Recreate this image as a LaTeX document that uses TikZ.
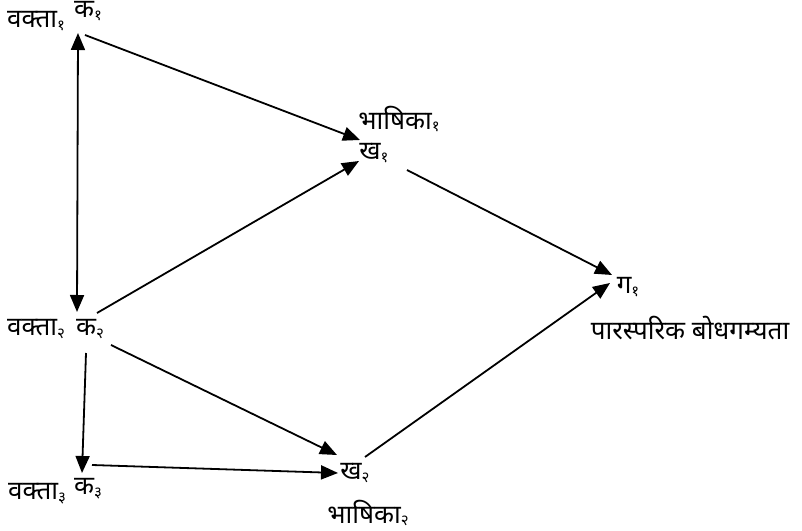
\documentclass[tikz,border=0pt]{standalone}
\usepackage{fontspec}
\newfontfamily\dev[Script=Devanagari]{Noto Sans}
\usetikzlibrary{arrows.meta}
\newcommand{\dsub}[1]{\raisebox{-0.2ex}{\fontsize{15bp}{16bp}\selectfont #1}}
\begin{document}
\begin{tikzpicture}[x=1bp,y=-1bp,
  lbl/.style={inner sep=0pt,font=\dev\fontsize{26bp}{28bp}\selectfont},
  arr/.style={line width=1.8bp,-{Triangle[length=17bp,width=14bp]}},
  darr/.style={line width=1.8bp,{Triangle[length=17bp,width=14bp]}-{Triangle[length=17bp,width=14bp]}}]
\useasboundingbox[fill=white] (0,0) rectangle (802,531);
% nodes
\node[lbl] (v1) at (36,21) {वक्ता\dsub{१}};
\node[lbl] (k1) at (88,11) {क\dsub{१}};
\node[lbl] (bh1) at (399,119) {भाषिका\dsub{१}};
\node[lbl] (kh1) at (374,153) {ख\dsub{१}};
\node[lbl] (g1) at (628,287) {ग\dsub{१}};
\node[lbl] (pb) at (690,328) {पारस्परिक बोधगम्यता};
\node[lbl] (v2) at (36,329) {वक्ता\dsub{२}};
\node[lbl] (k2) at (90,329) {क\dsub{२}};
\node[lbl] (v3) at (37,494) {वक्ता\dsub{३}};
\node[lbl] (k3) at (88,489) {क\dsub{३}};
\node[lbl] (kh2) at (355,473) {ख\dsub{२}};
\node[lbl] (bh2) at (368,513) {भाषिका\dsub{२}};
% connectors
\draw[darr] ([shift={(-13,-17)}]k2.center) -- ([shift={(-10,22)}]k1.center);
\draw[arr] ([shift={(-3,24)}]k1.center) -- ([shift={(-14,-13)}]kh1.center);
\draw[arr] ([shift={(7,-16)}]k2.center) -- ([shift={(-15,8)}]kh1.center);
\draw[arr] ([shift={(33,17)}]kh1.center) -- ([shift={(-16,-12)}]g1.center);
\draw[arr] ([shift={(21,16)}]k2.center) -- ([shift={(-18,-18)}]kh2.center);
\draw[arr] ([shift={(-4,24)}]k2.center) -- ([shift={(-6,-16)}]k3.center);
\draw[arr] ([shift={(4,-24)}]k3.center) -- ([shift={(-17,0)}]kh2.center);
\draw[arr] ([shift={(10,-16)}]kh2.center) -- ([shift={(-18,-4)}]g1.center);
\end{tikzpicture}
\end{document}
